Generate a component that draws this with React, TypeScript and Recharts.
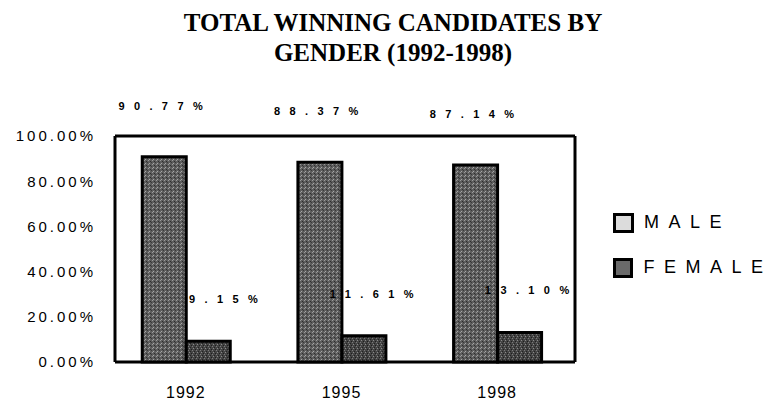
import React from "react";
import {
  BarChart,
  Bar,
  XAxis,
  YAxis,
  Legend,
  LabelList,
  CartesianGrid,
} from "recharts";

const years = ["1992", "1995", "1998"];
const maleShare = [90.77, 88.37, 87.14];
const femaleShare = [9.15, 11.61, 13.1];
const yTicks = [0, 20, 40, 60, 80, 100];
const titleLines = ["TOTAL WINNING CANDIDATES BY", "GENDER (1992-1998)"];

const data = years.map((year, i) => ({
  year,
  male: maleShare[i],
  female: femaleShare[i],
}));

const SANS = "'Liberation Sans', Arial, sans-serif";
const pct = (v: number) => `${v.toFixed(2)}%`;

const MaleLabel = (props: any) => {
  const { x, y, width, value } = props;
  return (
    <text
      x={x + width / 2 + 1}
      y={y - 50}
      textAnchor="middle"
      dominantBaseline="middle"
      fontFamily={SANS}
      fontSize={11}
      fontWeight={700}
      letterSpacing={9.4}
      fill="#000"
    >
      {pct(value)}
    </text>
  );
};

const FemaleLabel = (props: any) => {
  const { x, y, width, value } = props;
  return (
    <text
      x={x + width + 37}
      y={y - 41}
      textAnchor="end"
      dominantBaseline="middle"
      fontFamily={SANS}
      fontSize={11}
      fontWeight={700}
      letterSpacing={9.4}
      fill="#000"
    >
      {pct(value)}
    </text>
  );
};

const seriesOrder = ["male", "female"];

const LegendBox = ({ payload }: any) => {
  const items = [...(payload || [])].sort(
    (a: any, b: any) => seriesOrder.indexOf(a.dataKey) - seriesOrder.indexOf(b.dataKey)
  );
  return (
    <div style={{ fontFamily: SANS }}>
      {items.map((item: any) => {
        const label = String(item.value);
        return (
          <div
            key={label}
            style={{ display: "flex", alignItems: "center", height: 45, whiteSpace: "nowrap" }}
          >
            <span
              style={{
                display: "inline-block",
                width: 15,
                height: 14,
                border: "3.5px solid #000",
                background: item.dataKey === "male" ? "#dcdcdc" : "#6a6a6a",
                marginRight: 10,
              }}
            />
            <span style={{ fontSize: 18, color: "#000" }}>
              <span style={{ letterSpacing: 9.5 }}>{label.slice(0, -1)}</span>
              {label.slice(-1)}
            </span>
          </div>
        );
      })}
    </div>
  );
};

export default function App() {
  return (
    <div
      style={{
        position: "absolute",
        left: 0,
        top: 0,
        width: 768,
        height: 408,
        background: "#fff",
      }}
    >
      {titleLines.map((line, i) => (
        <div
          key={line}
          style={{
            position: "absolute",
            left: 393 - 250,
            width: 500,
            top: i === 0 ? 10 : 40,
            textAlign: "center",
            fontFamily: "'Liberation Serif', 'Times New Roman', serif",
            fontWeight: 700,
            fontSize: 25,
            lineHeight: "25px",
            color: "#000",
          }}
        >
          {line}
        </div>
      ))}
      <BarChart
        width={768}
        height={408}
        data={data}
        margin={{ top: 136, right: 193, left: 0, bottom: 16 }}
        barCategoryGap="22%"
        barGap={0}
      >
        <defs>
          <pattern id="maleFill" width="4" height="4" patternUnits="userSpaceOnUse">
            <rect width="4" height="4" fill="#5e5e5e" />
            <rect x="0" y="0" width="1" height="1" fill="#9a9a9a" />
            <rect x="2" y="1" width="1" height="1" fill="#2e2e2e" />
            <rect x="1" y="3" width="1" height="1" fill="#a8a8a8" />
            <rect x="3" y="2" width="1" height="1" fill="#3a3a3a" />
          </pattern>
          <pattern id="femaleFill" width="4" height="4" patternUnits="userSpaceOnUse">
            <rect width="4" height="4" fill="#444" />
            <rect x="1" y="0" width="1" height="1" fill="#8a8a8a" />
            <rect x="3" y="1" width="1" height="1" fill="#1e1e1e" />
            <rect x="0" y="2" width="1" height="1" fill="#7a7a7a" />
            <rect x="2" y="3" width="1" height="1" fill="#222" />
          </pattern>
        </defs>
        {/* plot frame: the four edges of the plot area */}
        <CartesianGrid
          stroke="#000"
          strokeWidth={3}
          horizontalCoordinatesGenerator={({ offset }: any) => [
            offset.top,
            offset.top + offset.height,
          ]}
          verticalCoordinatesGenerator={({ offset }: any) => [
            offset.left,
            offset.left + offset.width,
          ]}
        />
        <XAxis
          dataKey="year"
          padding={{ left: -7, right: 0 }}
          axisLine={false}
          tickLine={false}
          tickMargin={19}
          height={30}
          tick={{ fontFamily: SANS, fontSize: 16, fill: "#000", letterSpacing: 1 }}
        />
        <YAxis
          width={115}
          domain={[0, 100]}
          ticks={yTicks}
          tickFormatter={pct}
          axisLine={false}
          tickLine={false}
          tickMargin={13}
          tick={{ fontFamily: SANS, fontSize: 15, fill: "#000", letterSpacing: 3 }}
        />
        <Legend
          layout="vertical"
          align="center"
          verticalAlign="middle"
          content={<LegendBox />}
          wrapperStyle={{ position: "absolute", left: 613, top: 200, width: 150 }}
        />
        <Bar
          dataKey="male"
          name="MALE"
          fill="url(#maleFill)"
          stroke="#000"
          strokeWidth={3}
          isAnimationActive={false}
        >
          <LabelList dataKey="male" content={<MaleLabel />} />
        </Bar>
        <Bar
          dataKey="female"
          name="FEMALE"
          fill="url(#femaleFill)"
          stroke="#000"
          strokeWidth={3}
          isAnimationActive={false}
        >
          <LabelList dataKey="female" content={<FemaleLabel />} />
        </Bar>
      </BarChart>
    </div>
  );
}
